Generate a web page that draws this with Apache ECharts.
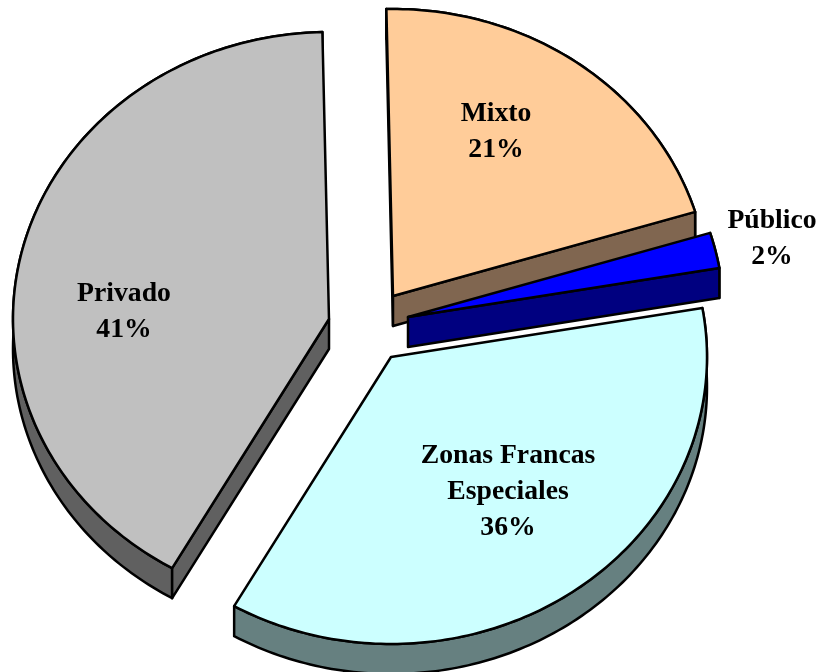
<!DOCTYPE html>
<html>
<head>
<meta charset="utf-8">
<style>html,body{margin:0;padding:0;background:#fff}#c{width:822px;height:672px}</style>
<script src="https://cdn.jsdelivr.net/npm/echarts@6/dist/echarts.min.js"></script>
</head>
<body>
<div id="c"></div>
<script>
const categories = ['Mixto', 'Público', 'Zonas Francas\nEspeciales', 'Privado'];
const shares = [20.6, 2.0, 36.0, 41.4];

const topColors = ['#FFCC99', '#0000FF', '#CCFFFF', '#C0C0C0'];
const sideColors = ['#806650', '#000080', '#668080', '#606060'];
const apexes = [[393, 296], [408, 317], [391, 357], [329, 319]];
const labelCentres = [[496, 132], [772, 239], [508, 492], [124, 312]];
const drawOrder = [0, 1, 3, 2];
const RX = 316, RY = 287, DEPTH = 30, START_DEG = -1.2;

const total = shares.reduce((a, b) => a + b, 0);
const starts = [];
shares.reduce((acc, v, i) => { starts[i] = acc; return acc + v; }, 0);

function angles(i) {
  const a0 = START_DEG + starts[i] / total * 360;
  return [a0, a0 + shares[i] / total * 360];
}
function arc(i, dy) {
  const [a0, a1] = angles(i);
  const n = Math.max(2, Math.ceil(a1 - a0));
  const pts = [];
  for (let k = 0; k <= n; k++) {
    const t = (a0 + (a1 - a0) * k / n) * Math.PI / 180;
    pts.push([apexes[i][0] + RX * Math.sin(t), apexes[i][1] - RY * Math.cos(t) + dy]);
  }
  return pts;
}
const edge = { stroke: '#000', lineWidth: 2.5, lineJoin: 'round' };
function poly(points, fill) {
  return { type: 'polygon', shape: { points }, style: Object.assign({ fill }, edge) };
}
function renderItem(params, api) {
  const i = api.value(0);
  const top = arc(i, 0), low = arc(i, DEPTH);
  const a = apexes[i], aLow = [a[0], a[1] + DEPTH];
  const side = sideColors[i];
  const [a0, a1] = angles(i);
  const children = [poly(top.concat(low.slice().reverse()), side)];
  if (Math.sin(a0 * Math.PI / 180) < 0) children.push(poly([a, top[0], low[0], aLow], side));
  if (Math.sin(a1 * Math.PI / 180) > 0) children.push(poly([a, top[top.length - 1], low[low.length - 1], aLow], side));
  children.push(poly([a].concat(top), topColors[i]));
  children.push({
    type: 'text',
    x: labelCentres[i][0], y: labelCentres[i][1],
    style: {
      text: categories[i] + '\n' + Math.round(shares[i]) + '%',
      fill: '#000', align: 'center', verticalAlign: 'middle',
      font: 'bold 27.7px "Liberation Serif", "Times New Roman", serif',
      lineHeight: 36
    }
  });
  return { type: 'group', children };
}
const chart = echarts.init(document.getElementById('c'), null, { renderer: 'canvas' });
chart.setOption({
  animation: false,
  backgroundColor: '#fff',
  series: [{
    type: 'custom',
    coordinateSystem: 'none',
    renderItem,
    data: drawOrder.map(i => ({ name: categories[i], value: [i, shares[i]] }))
  }]
});
</script>
</body>
</html>
